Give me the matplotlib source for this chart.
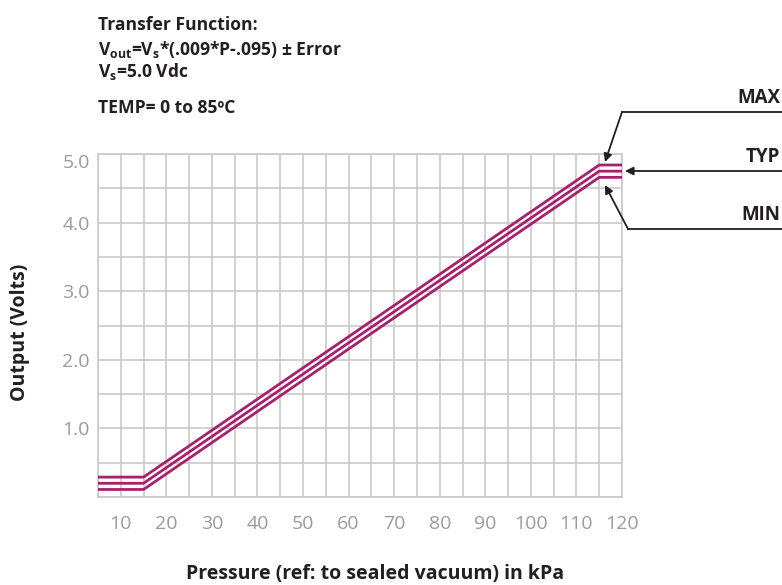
import matplotlib
matplotlib.use("Agg")
import matplotlib.pyplot as plt
from matplotlib.lines import Line2D

plt.rcParams['font.family'] = ['Open Sans', 'DejaVu Sans']
plt.rcParams['mathtext.fontset'] = 'custom'
plt.rcParams['mathtext.rm'] = 'Open Sans:bold'

# output curves (kPa -> Volts)
pressure = [5, 15, 115, 120]
v_max = [0.29, 0.29, 4.84, 4.84]
v_typ = [0.20, 0.20, 4.75, 4.75]
v_min = [0.11, 0.11, 4.66, 4.66]

x_ticks = [10, 20, 30, 40, 50, 60, 70, 80, 90, 100, 110, 120]
y_ticks = [1.0, 2.0, 3.0, 4.0, 5.0]

line_col = '#a8206b'
grid_col = '#c9c9c9'
tick_col = '#9b9b9b'
text_col = '#231f20'

fig = plt.figure(figsize=(7.82, 5.85), dpi=100)
ax = fig.add_axes([0.1253, 0.1504, 0.6701, 0.5863])

for v in [v_max, v_typ, v_min]:
    ax.plot(pressure, v, color=line_col, lw=2.0, solid_capstyle='butt', zorder=3)

ax.set_xlim(5, 120)
ax.set_ylim(0, 5.0)
ax.set_xticks([x for x in range(5, 121, 5)], minor=True)
ax.set_yticks([y / 2 for y in range(0, 11)], minor=True)
ax.set_xticks(x_ticks)
ax.set_yticks(y_ticks)
ax.set_yticklabels(['%.1f' % y for y in y_ticks])
ax.yaxis.get_major_ticks()[-1].label1.set_va('top')
ax.grid(True, which='both', color=grid_col, lw=1.2, zorder=0)
for s in ax.spines.values():
    s.set_color(grid_col)
    s.set_linewidth(1.2)
ax.tick_params(which='both', length=0)
ax.tick_params(axis='x', pad=13, labelsize=14, labelcolor=tick_col)
ax.tick_params(axis='y', pad=6, labelsize=14, labelcolor=tick_col)

fig.text(375 / 782, 1 - 574 / 585, 'Pressure (ref: to sealed vacuum) in kPa', ha='center',
         va='center', fontsize=14, fontweight='bold', color=text_col)
fig.text(20 / 782, 1 - 332 / 585, 'Output (Volts)', ha='center', va='center', rotation=90,
         fontsize=14, fontweight='bold', color=text_col)

# header text
hx = 98 / 782
fs = 12.6
fig.text(hx, 1 - 25 / 585, 'Transfer Function:', ha='left', va='center',
         fontsize=fs, fontweight='bold', color=text_col)
fig.text(hx, 1 - 49 / 585, r'V$_{\mathrm{out}}$=V$_{\mathrm{s}}$*(.009*P-.095) ± Error', ha='left',
         va='center', fontsize=fs, fontweight='bold', color=text_col)
fig.text(hx, 1 - 72 / 585, r'V$_{\mathrm{s}}$=5.0 Vdc', ha='left', va='center',
         fontsize=fs, fontweight='bold', color=text_col)
fig.text(hx, 1 - 108 / 585, 'TEMP= 0 to 85ºC', ha='left', va='center',
         fontsize=fs, fontweight='bold', color=text_col)

# MAX / TYP / MIN callouts (figure pixel positions)
def px(x, y):
    return (x / 782, 1 - y / 585)

arrow = dict(arrowstyle='-|>', color=text_col, lw=1.3, mutation_scale=12, shrinkA=0, shrinkB=0)
for lbl, ty, ly, corner, tip in [('MAX', 98, 112, (622, 112), (605, 162)),
                                 ('MIN', 215, 229, (628, 229), (605, 185))]:
    fig.text(*px(780, ty), lbl, ha='right', va='center', fontsize=13.5,
             fontweight='bold', color=text_col)
    fig.add_artist(Line2D([corner[0] / 782, 1.0], [1 - ly / 585, 1 - ly / 585],
                          transform=fig.transFigure, color=text_col, lw=1.3))
    ax.annotate('', xy=px(*tip), xycoords='figure fraction', xytext=px(*corner),
                textcoords='figure fraction', arrowprops=arrow, annotation_clip=False)

fig.text(*px(780, 157), 'TYP', ha='right', va='center', fontsize=13.5,
         fontweight='bold', color=text_col)
ax.annotate('', xy=px(625, 171), xycoords='figure fraction', xytext=px(782, 171),
            textcoords='figure fraction', arrowprops=arrow, annotation_clip=False)

fig.savefig('out.png', dpi=100)
